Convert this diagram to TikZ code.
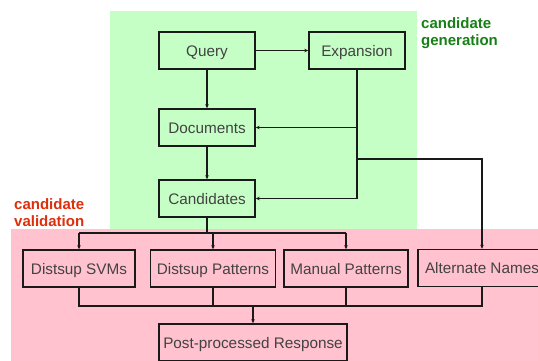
\documentclass[tikz,border=0pt]{standalone}
\usepackage{fontspec}
\setmainfont{Liberation Sans}
\usetikzlibrary{arrows.meta}
\definecolor{genbg}{RGB}{198,255,198}
\definecolor{valbg}{RGB}{255,194,206}
\definecolor{gentext}{RGB}{22,128,22}
\definecolor{valtext}{RGB}{222,46,12}
\definecolor{boxtext}{RGB}{66,66,66}
\tikzset{
  stage/.style={draw=black!90, line width=1.4pt, minimum height=37pt,
    inner sep=0pt, text height=11.6pt, text depth=0pt,
    text=boxtext, font=\fontsize{15.3}{18}\selectfont},
  link/.style={draw=black!90, line width=1.1pt},
  flow/.style={link, -{Stealth[length=4pt,width=3.5pt]}},
  region/.style={font=\bfseries\fontsize{15}{17.5}\selectfont, align=left,
    anchor=north west, inner sep=0pt}
}
\begin{document}
\begin{tikzpicture}[x=1pt,y=-1pt]
\useasboundingbox (0,0) rectangle (538,360);
\clip (0,0) rectangle (538,360);

% background regions
\fill[genbg] (110,11) rectangle (417,229);
\fill[valbg] (11,229) rectangle (545,365);

% region labels
\node[region, text=gentext] (genlabel) at (421,17) {candidate\\generation};
\node[region, text=valtext] (vallabel) at (14,198) {candidate\\validation};

% generation stages
\node[stage, minimum width=96pt] (query) at (207,50.5) {Query};
\node[stage, minimum width=96pt] (expansion) at (357,50.5) {Expansion};
\node[stage, minimum width=96pt] (documents) at (207,127.5) {Documents};
\node[stage, minimum width=96pt] (candidates) at (207,198.5) {Candidates};

% validation stages
\node[stage, minimum width=112pt] (svms) at (79,268.5) {Distsup SVMs};
\node[stage, minimum width=125pt] (dpatterns) at (213,268.5) {Distsup Patterns};
\node[stage, minimum width=124pt] (mpatterns) at (346,268.5) {Manual Patterns};
\node[stage, minimum width=128pt] (altnames) at (482,268) {Alternate Names};
\node[stage, minimum width=188pt] (response) at (253,342.5) {Post-processed Response};

% junction points
\coordinate (split) at (357,159);
\coordinate (fan) at (207,233);
\coordinate (merge) at (253,306);

% generation flow
\draw[flow] (query) -- (expansion);
\draw[flow] (query) -- (documents);
\draw[flow] (documents) -- (candidates);
\draw[flow] (expansion.south) |- (candidates.east);
\draw[flow] (expansion.south |- documents.east) -- (documents.east);
\draw[flow] (split) -| (altnames.north);

% fan out to validators
\draw[link] (candidates.south) -- (fan);
\draw[link] (svms.north |- fan) -- (mpatterns.north |- fan);
\draw[flow] (svms.north |- fan) -- (svms.north);
\draw[flow] (dpatterns.north |- fan) -- (dpatterns.north);
\draw[flow] (mpatterns.north |- fan) -- (mpatterns.north);

% merge into response
\draw[link] (svms.south) |- (merge);
\draw[link] (altnames.south) |- (merge);
\draw[link] (dpatterns.south) -- (dpatterns.south |- merge);
\draw[link] (mpatterns.south) -- (mpatterns.south |- merge);
\draw[flow] (merge) -- (response.north);
\end{tikzpicture}
\end{document}
